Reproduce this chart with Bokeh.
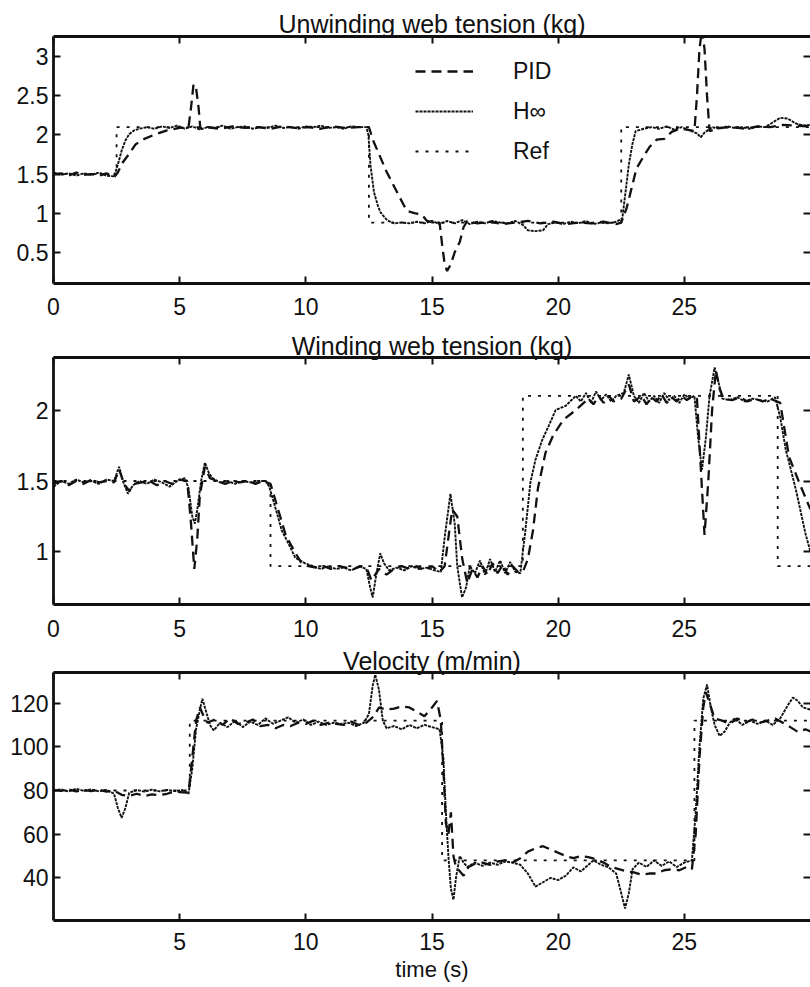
from bokeh.plotting import figure
from bokeh.models import Range1d, LinearAxis, FixedTicker, NumeralTickFormatter, Legend, LegendItem
from bokeh.layouts import column
from bokeh.embed import file_html
from bokeh.resources import INLINE

FONT = "Liberation Sans"
INK = "#111111"

# ---------------- data ----------------
titles = ["Unwinding web tension (kg)", "Winding web tension (kg)", "Velocity (m/min)"]
x_label = "time (s)"
series_names = ["PID", "H\u221e", "Ref"]

# Panel 1: unwinding web tension (kg)
ref1 = [(0, 1.5), (2.5, 1.5), (2.5, 2.1), (12.5, 2.1), (12.5, 0.88), (22.5, 0.88), (22.5, 2.1), (30, 2.1)]
hinf1 = [(0, 1.52), (0.3, 1.49), (0.6, 1.51), (0.9, 1.48), (1.2, 1.51), (1.5, 1.49), (1.8, 1.52), (2.1, 1.48),
         (2.4, 1.47), (2.55, 1.62), (2.7, 1.8), (2.85, 1.93), (3.0, 2.01), (3.2, 2.06), (3.4, 2.08), (3.7, 2.1),
         (4.0, 2.08), (4.3, 2.11), (4.6, 2.09), (4.9, 2.12), (5.2, 2.08), (5.5, 2.11), (5.8, 2.07), (6.1, 2.1),
         (6.4, 2.09), (6.7, 2.12), (7.0, 2.08), (7.3, 2.1), (7.6, 2.11), (7.9, 2.08), (8.2, 2.1), (8.5, 2.09),
         (8.8, 2.12), (9.1, 2.09), (9.4, 2.1), (9.7, 2.08), (10.0, 2.11), (10.3, 2.1), (10.6, 2.12), (10.9, 2.09),
         (11.2, 2.1), (11.5, 2.08), (11.8, 2.11), (12.1, 2.1), (12.4, 2.1), (12.48, 2.0), (12.56, 1.62), (12.7, 1.27),
         (12.85, 1.1), (12.96, 1.01), (13.22, 0.91), (13.5, 0.87), (13.8, 0.88), (14.1, 0.87), (14.4, 0.89),
         (14.7, 0.87), (15.0, 0.9), (15.3, 0.86), (15.6, 0.9), (15.9, 0.87), (16.2, 0.91), (16.5, 0.86), (16.8, 0.89),
         (17.1, 0.87), (17.4, 0.9), (17.7, 0.88), (18.0, 0.87), (18.3, 0.9), (18.6, 0.85), (18.8, 0.78), (19.1, 0.77),
         (19.4, 0.78), (19.6, 0.86), (19.9, 0.88), (20.2, 0.86), (20.5, 0.89), (20.8, 0.87), (21.1, 0.9), (21.4, 0.86),
         (21.7, 0.88), (22.0, 0.87), (22.3, 0.89), (22.54, 0.93), (22.67, 1.27), (22.8, 1.62), (22.94, 1.88),
         (23.07, 2.05), (23.4, 2.08), (23.7, 2.1), (24.0, 2.08), (24.3, 2.11), (24.6, 2.07), (24.9, 2.1), (25.2, 2.06),
         (25.5, 2.02), (25.65, 1.97), (25.8, 2.03), (26.1, 2.1), (26.4, 2.08), (26.7, 2.11), (27.0, 2.09), (27.3, 2.1),
         (27.6, 2.08), (27.9, 2.11), (28.2, 2.1), (28.5, 2.16), (28.8, 2.22), (29.1, 2.21), (29.4, 2.15), (29.7, 2.12),
         (30.0, 2.13)]
pid1 = [(0, 1.5), (0.3, 1.51), (0.6, 1.48), (0.9, 1.52), (1.2, 1.49), (1.5, 1.5), (1.8, 1.48), (2.1, 1.51),
        (2.4, 1.46), (2.55, 1.52), (2.72, 1.64), (3.0, 1.76), (3.25, 1.88), (3.6, 1.95), (3.97, 2.0), (4.5, 2.06),
        (5.0, 2.09), (5.35, 2.1), (5.45, 2.35), (5.55, 2.65), (5.65, 2.6), (5.75, 2.35), (5.82, 2.08), (6.1, 2.1),
        (6.6, 2.08), (7.1, 2.11), (7.6, 2.09), (8.1, 2.1), (8.6, 2.08), (9.1, 2.11), (9.6, 2.09), (10.1, 2.1),
        (10.6, 2.08), (11.1, 2.11), (11.6, 2.09), (12.1, 2.1), (12.5, 2.1), (12.68, 1.92), (13.2, 1.53), (13.74, 1.19),
        (14.0, 1.03), (14.3, 1.0), (14.6, 0.98), (14.8, 0.9), (15.1, 0.88), (15.3, 0.88), (15.4, 0.6), (15.5, 0.35),
        (15.6, 0.26), (15.75, 0.35), (15.9, 0.5), (16.1, 0.63), (16.25, 0.82), (16.4, 0.9), (16.8, 0.87), (17.3, 0.89),
        (17.8, 0.86), (18.3, 0.88), (18.8, 0.9), (19.3, 0.87), (19.8, 0.89), (20.3, 0.86), (20.8, 0.88), (21.3, 0.87),
        (21.8, 0.89), (22.3, 0.86), (22.5, 0.88), (22.71, 1.06), (22.91, 1.32), (23.1, 1.57), (23.43, 1.75),
        (23.63, 1.85), (23.9, 1.94), (24.2, 1.95), (24.5, 2.04), (24.8, 2.08), (25.1, 2.07), (25.4, 2.05), (25.5, 2.5),
        (25.6, 3.1), (25.7, 3.35), (25.8, 3.1), (25.9, 2.5), (26.0, 2.05), (26.4, 2.09), (26.9, 2.1), (27.4, 2.08),
        (27.9, 2.11), (28.4, 2.1), (28.9, 2.13), (29.4, 2.12), (30, 2.11)]

# Panel 2: winding web tension (kg)
ref2 = [(0, 1.5), (8.6, 1.5), (8.6, 0.9), (18.6, 0.9), (18.6, 2.1), (28.7, 2.1), (28.7, 0.9), (30, 0.9)]
hinf2 = [(0, 1.46), (0.3, 1.5), (0.6, 1.48), (0.9, 1.51), (1.2, 1.49), (1.5, 1.5), (1.8, 1.48), (2.1, 1.51),
         (2.4, 1.5), (2.6, 1.6), (2.75, 1.5), (2.95, 1.41), (3.15, 1.47), (3.4, 1.5), (3.7, 1.48), (4.0, 1.51),
         (4.3, 1.49), (4.6, 1.46), (4.9, 1.5), (5.2, 1.52), (5.35, 1.45), (5.5, 1.25), (5.6, 1.2), (5.7, 1.3),
         (5.85, 1.5), (6.0, 1.63), (6.15, 1.56), (6.3, 1.52), (6.6, 1.49), (6.9, 1.5), (7.2, 1.48), (7.5, 1.5),
         (7.8, 1.49), (8.1, 1.5), (8.4, 1.5), (8.55, 1.46), (8.78, 1.32), (9.05, 1.15), (9.31, 1.06), (9.58, 0.96),
         (9.97, 0.92), (10.3, 0.9), (10.6, 0.88), (10.9, 0.9), (11.2, 0.88), (11.5, 0.89), (11.8, 0.87), (12.1, 0.9),
         (12.4, 0.88), (12.55, 0.75), (12.65, 0.68), (12.8, 0.85), (12.95, 0.99), (13.1, 0.92), (13.3, 0.87),
         (13.6, 0.89), (13.9, 0.87), (14.2, 0.9), (14.5, 0.88), (14.8, 0.89), (15.1, 0.87), (15.35, 0.86), (15.5, 1.1),
         (15.73, 1.41), (15.9, 1.2), (16.0, 0.9), (16.19, 0.68), (16.35, 0.75), (16.5, 0.9), (16.7, 0.85), (16.9, 0.94),
         (17.1, 0.84), (17.3, 0.95), (17.5, 0.86), (17.7, 0.94), (17.9, 0.85), (18.1, 0.93), (18.3, 0.86), (18.5, 0.85),
         (18.7, 1.15), (18.9, 1.49), (19.1, 1.65), (19.37, 1.79), (19.63, 1.89), (19.9, 2.0), (20.3, 2.03), (20.7, 2.1),
         (20.9, 2.06), (21.1, 2.12), (21.3, 2.05), (21.5, 2.13), (21.7, 2.07), (21.9, 2.11), (22.1, 2.06), (22.3, 2.1),
         (22.6, 2.12), (22.8, 2.25), (23.0, 2.1), (23.2, 2.05), (23.4, 2.12), (23.6, 2.06), (23.8, 2.1), (24.0, 2.05),
         (24.2, 2.12), (24.4, 2.07), (24.6, 2.1), (24.8, 2.05), (25.0, 2.11), (25.2, 2.08), (25.4, 2.1), (25.55, 1.8),
         (25.7, 1.58), (25.85, 1.8), (26.0, 2.1), (26.2, 2.3), (26.35, 2.2), (26.5, 2.08), (26.8, 2.07), (27.1, 2.09),
         (27.4, 2.06), (27.7, 2.08), (28.0, 2.07), (28.3, 2.06), (28.6, 2.09), (28.8, 1.95), (29.02, 1.72),
         (29.42, 1.44), (29.8, 1.13), (30, 1.0)]
pid2 = [(0, 1.48), (0.3, 1.5), (0.6, 1.47), (0.9, 1.5), (1.2, 1.48), (1.5, 1.51), (1.8, 1.49), (2.1, 1.5),
        (2.4, 1.49), (2.6, 1.58), (2.8, 1.48), (3.0, 1.43), (3.2, 1.48), (3.5, 1.49), (3.8, 1.5), (4.1, 1.47),
        (4.4, 1.5), (4.7, 1.48), (5.0, 1.51), (5.3, 1.5), (5.45, 1.2), (5.58, 0.88), (5.7, 1.1), (5.8, 1.4),
        (6.0, 1.6), (6.2, 1.52), (6.5, 1.5), (6.8, 1.48), (7.1, 1.5), (7.4, 1.49), (7.7, 1.5), (8.0, 1.48),
        (8.3, 1.5), (8.6, 1.48), (8.9, 1.3), (9.2, 1.12), (9.5, 1.02), (9.8, 0.93), (10.1, 0.9), (10.4, 0.89),
        (10.7, 0.9), (11.0, 0.88), (11.3, 0.9), (11.6, 0.89), (11.9, 0.88), (12.2, 0.9), (12.45, 0.87), (12.6, 0.8),
        (12.9, 0.88), (13.2, 0.84), (13.5, 0.88), (13.8, 0.9), (14.1, 0.88), (14.4, 0.9), (14.7, 0.87), (15.0, 0.9),
        (15.3, 0.86), (15.5, 0.9), (15.8, 1.3), (16.0, 1.25), (16.2, 0.95), (16.4, 0.78), (16.6, 0.88), (16.8, 0.82),
        (17.0, 0.9), (17.2, 0.84), (17.4, 0.92), (17.6, 0.85), (17.8, 0.91), (18.0, 0.84), (18.2, 0.9), (18.4, 0.86),
        (18.6, 0.86), (18.8, 0.95), (19.0, 1.15), (19.2, 1.45), (19.5, 1.7), (19.8, 1.82), (20.2, 1.93), (20.7, 2.0),
        (21.2, 2.08), (21.4, 2.04), (21.6, 2.1), (21.8, 2.05), (22.0, 2.1), (22.2, 2.06), (22.5, 2.08), (22.8, 2.18),
        (23.0, 2.06), (23.3, 2.1), (23.5, 2.04), (23.7, 2.09), (23.9, 2.06), (24.1, 2.11), (24.3, 2.05), (24.5, 2.09),
        (24.7, 2.06), (24.9, 2.1), (25.1, 2.07), (25.3, 2.1), (25.5, 2.08), (25.65, 1.6), (25.8, 1.12), (25.95, 1.5),
        (26.1, 2.0), (26.25, 2.28), (26.4, 2.15), (26.55, 2.08), (26.9, 2.07), (27.2, 2.09), (27.5, 2.06),
        (27.8, 2.08), (28.1, 2.06), (28.4, 2.08), (28.8, 2.05), (29.15, 1.67), (29.55, 1.49), (29.95, 1.32), (30, 1.3)]

# Panel 3: velocity (m/min)
ref3 = [(0, 80), (5.4, 80), (5.4, 112), (15.4, 112), (15.4, 48), (25.4, 48), (25.4, 112), (30, 112)]
hinf3 = [(0, 80), (0.3, 80.5), (0.6, 79.5), (0.9, 80.8), (1.2, 79.8), (1.5, 80.5), (1.8, 79.6), (2.1, 80.3),
         (2.4, 78.5), (2.55, 72), (2.7, 67.5), (2.85, 72), (3.0, 79), (3.3, 80.2), (3.6, 79.5), (3.9, 80.4),
         (4.2, 79.6), (4.5, 80.3), (4.8, 79.7), (5.1, 80.2), (5.35, 78.5), (5.5, 90), (5.65, 108), (5.8, 117),
         (5.9, 122), (6.05, 116), (6.2, 110), (6.35, 107.5), (6.6, 111), (6.9, 109), (7.2, 112), (7.5, 109),
         (7.8, 111.5), (8.1, 110), (8.4, 113), (8.7, 110.5), (9.0, 112), (9.3, 113.5), (9.6, 111), (9.9, 112.5),
         (10.2, 110), (10.5, 111.5), (10.8, 110), (11.1, 111), (11.4, 110.5), (11.7, 111), (12.0, 109.5),
         (12.3, 111), (12.5, 115), (12.65, 128), (12.75, 133), (12.9, 126), (13.05, 112), (13.2, 108.5),
         (13.5, 109.5), (13.8, 108), (14.1, 110), (14.4, 108.5), (14.7, 110), (15.0, 109), (15.3, 108),
         (15.45, 95), (15.55, 70), (15.65, 50), (15.75, 35), (15.85, 30), (15.95, 40), (16.1, 50), (16.25, 47),
         (16.4, 45), (16.7, 47), (17.0, 45.5), (17.3, 47), (17.6, 46), (17.9, 47.5), (18.2, 47), (18.5, 46),
         (18.8, 42), (19.1, 36), (19.4, 38), (19.7, 40), (20.0, 39), (20.3, 41), (20.6, 44.8), (20.9, 43),
         (21.2, 46), (21.4, 48), (21.7, 46), (22.0, 44.8), (22.3, 42), (22.5, 33), (22.65, 26), (22.8, 33),
         (22.95, 44), (23.2, 47), (23.5, 45), (23.8, 48), (24.1, 45.5), (24.4, 47.5), (24.7, 45), (25.0, 47),
         (25.3, 48), (25.45, 70), (25.6, 100), (25.75, 122), (25.9, 128.5), (26.05, 118), (26.2, 110), (26.4, 105),
         (26.6, 107), (26.8, 111), (27.0, 113), (27.3, 110), (27.6, 112), (27.9, 110.5), (28.2, 112), (28.5, 110),
         (28.8, 113), (29.1, 119), (29.3, 122.5), (29.5, 121), (29.7, 118), (30, 117)]
pid3 = [(0, 80.3), (0.3, 79.8), (0.6, 80.5), (0.9, 79.6), (1.2, 80.2), (1.5, 79.7), (1.8, 80.4), (2.1, 79.5),
        (2.4, 80), (2.7, 78), (3.0, 77.5), (3.3, 78.5), (3.6, 77.5), (3.9, 78.2), (4.2, 77.8), (4.5, 78.5),
        (4.8, 79.5), (5.1, 79.2), (5.35, 79), (5.5, 95), (5.65, 112), (5.8, 118), (5.95, 114), (6.1, 111),
        (6.4, 112.5), (6.7, 110), (7.0, 113), (7.3, 110.5), (7.6, 111), (7.9, 112.5), (8.2, 109.5), (8.5, 110),
        (8.8, 108.5), (9.1, 110), (9.4, 109.5), (9.7, 111), (10.0, 110.5), (10.3, 112), (10.6, 110), (10.9, 111),
        (11.2, 110.5), (11.5, 110), (11.8, 111.5), (12.1, 110), (12.4, 111), (12.7, 114), (12.9, 118), (13.2, 117),
        (13.5, 117.5), (13.8, 118.5), (14.1, 118), (14.4, 116), (14.7, 114), (15.0, 118), (15.2, 121), (15.35, 112),
        (15.45, 90), (15.55, 65), (15.65, 60), (15.75, 70), (15.85, 50), (15.95, 45), (16.1, 43), (16.25, 41),
        (16.45, 45), (16.7, 46.5), (17.0, 47), (17.3, 46), (17.6, 47.5), (17.9, 48), (18.2, 47), (18.5, 49),
        (18.8, 52), (19.1, 53.5), (19.4, 54.5), (19.7, 53), (20.0, 51.5), (20.3, 50), (20.6, 49), (20.9, 50),
        (21.2, 49.5), (21.5, 48.5), (21.8, 47), (22.1, 45), (22.4, 44), (22.7, 43), (23.0, 42.5), (23.3, 41.5),
        (23.6, 42), (23.9, 42), (24.2, 43.5), (24.5, 44), (24.8, 43.5), (25.1, 45), (25.3, 44), (25.45, 60),
        (25.6, 95), (25.75, 118), (25.85, 125), (26.0, 120), (26.2, 113), (26.5, 112), (26.8, 110.5), (27.1, 113),
        (27.4, 111), (27.7, 112.5), (28.0, 111), (28.3, 112), (28.6, 113), (28.9, 111), (29.2, 109), (29.5, 106.8),
        (29.8, 108), (30, 107)]

x_ticks_top = [0, 5, 10, 15, 20, 25]
x_ticks_bottom = [[0, 5, 10, 15, 20, 25], [0, 5, 10, 15, 20, 25], [5, 10, 15, 20, 25]]
y_ticks = [[0.5, 1, 1.5, 2, 2.5, 3], [1, 1.5, 2], [40, 60, 80, 100, 120]]
y_ranges = [(0.1, 3.26), (0.63, 2.37), (20.5, 134)]
x_range = (0, 30)

panels = [(pid1, hinf1, ref1), (pid2, hinf2, ref2), (pid3, hinf3, ref3)]

# ---------------- layout ----------------
heights = [330, 315, 342]
border_top = [36, 27, 27]
border_bottom = [47, 41, 67]
label_standoff = [14, 15, 12]
title_standoff = [-3, -4, -4]


def split(pairs):
    return [a for a, _ in pairs], [b for _, b in pairs]


def style_axis(ax, ticks, show_labels):
    ax.ticker = FixedTicker(ticks=ticks)
    ax.major_tick_in = 7
    ax.major_tick_out = 0
    ax.minor_tick_in = 0
    ax.minor_tick_out = 0
    ax.major_tick_line_width = 2
    ax.major_tick_line_color = INK
    ax.axis_line_width = 2.8
    ax.axis_line_color = INK
    ax.major_label_text_font = FONT
    ax.major_label_text_color = INK
    if not show_labels:
        ax.major_label_text_font_size = "0px"
        ax.major_label_text_color = None
        ax.major_label_standoff = 0


figs = []
for i in range(3):
    p = figure(width=810, height=heights[i], x_range=Range1d(*x_range), y_range=Range1d(*y_ranges[i]),
               output_backend="svg", toolbar_location=None,
               min_border_left=53, min_border_right=0,
               min_border_top=border_top[i], min_border_bottom=border_bottom[i])
    p.outline_line_color = None
    p.xgrid.visible = False
    p.ygrid.visible = False
    p.background_fill_color = "white"

    xb = p.xaxis[0]
    style_axis(xb, x_ticks_bottom[i], True)
    xb.major_label_text_font_size = "23px"
    xb.major_label_standoff = label_standoff[i]

    yl = p.yaxis[0]
    style_axis(yl, y_ticks[i], True)
    yl.major_label_text_font_size = "23px"
    yl.major_label_standoff = 5
    yl.formatter = NumeralTickFormatter(format="0.[0]")

    xt = LinearAxis()
    style_axis(xt, x_ticks_top, False)
    p.add_layout(xt, "above")

    yr = LinearAxis()
    style_axis(yr, y_ticks[i], False)
    yr.axis_line_color = None
    p.add_layout(yr, "right")

    p.title.text = titles[i]
    p.title.text_font = FONT
    p.title.text_font_size = "25px"
    p.title.text_font_style = "normal"
    p.title.text_color = INK
    p.title.align = "center"
    p.title.standoff = title_standoff[i]

    pid, hinf, ref = panels[i]
    tx, ty = split(pid)
    r_pid = p.line(tx, ty, line_color=INK, line_width=2.3, line_dash="10 6")
    tx, ty = split(hinf)
    r_hinf = p.line(tx, ty, line_color=INK, line_width=1.9, line_dash="3 1")
    tx, ty = split(ref)
    r_ref = p.line(tx, ty, line_color=INK, line_width=1.8, line_dash="3 7")

    if i == 0:
        legend = Legend(items=[LegendItem(label=series_names[0], renderers=[r_pid]),
                               LegendItem(label=series_names[1], renderers=[r_hinf]),
                               LegendItem(label=series_names[2], renderers=[r_ref])],
                        location=(362, 112), glyph_width=58, glyph_height=40, label_height=40,
                        label_standoff=40, spacing=0, padding=0, margin=0,
                        border_line_color=None, background_fill_alpha=0,
                        label_text_font=FONT, label_text_font_size="23px", label_text_color=INK)
        p.add_layout(legend)

    if i == 2:
        xb.axis_label = x_label
        xb.axis_label_text_font = FONT
        xb.axis_label_text_font_size = "22px"
        xb.axis_label_text_font_style = "normal"
        xb.axis_label_text_color = INK
        xb.axis_label_standoff = 4

    figs.append(p)

layout = column(*figs, spacing=0)
open("out.html", "w").write(file_html(layout, INLINE))
